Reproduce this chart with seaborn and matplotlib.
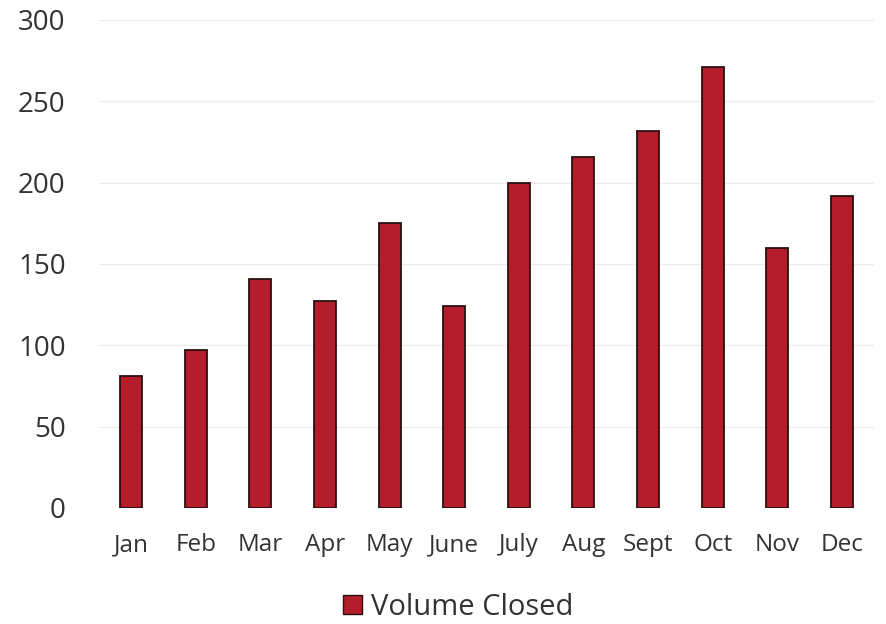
import matplotlib
matplotlib.use("Agg")
import matplotlib.pyplot as plt
import seaborn as sns
import pandas as pd
from matplotlib.patches import Patch

months = ["Jan", "Feb", "Mar", "Apr", "May", "June", "July", "Aug", "Sept", "Oct", "Nov", "Dec"]
volume_closed = [81, 97, 141, 127, 175, 124, 200, 216, 232, 271, 160, 192]
series_name = "Volume Closed"

sns.set_theme(style="white")
plt.rcParams['font.family'] = ['Open Sans', 'DejaVu Sans']

df = pd.DataFrame({"Month": months, "Value": volume_closed})

fig = plt.figure(figsize=(8.86, 6.24), dpi=100)
ax = fig.add_axes([0.1117, 0.186, 0.8748, 0.782])

bar_color = "#B31C2A"
sns.barplot(data=df, x="Month", y="Value", color=bar_color, width=0.34,
            edgecolor="#2a1010", linewidth=1.3, saturation=1, ax=ax)

ax.set_ylim(0, 300)
ax.set_yticks(range(0, 301, 50))
ax.set_xlim(-0.5, 11.5)
ax.yaxis.grid(True, color="#ececec", linewidth=0.9)
ax.set_axisbelow(True)
for s in ax.spines.values():
    s.set_visible(False)
ax.set_xlabel("")
ax.set_ylabel("")
ax.tick_params(axis="y", labelsize=20, colors="#333333", length=0, pad=24)
ax.tick_params(axis="x", labelsize=17.5, colors="#333333", length=0, pad=18)

handle = Patch(facecolor=bar_color, edgecolor="#2a1010", label=series_name)
fig.legend(handles=[handle], loc="center", bbox_to_anchor=(0.517, 0.027),
           frameon=False, fontsize=21, handlelength=0.65, handleheight=0.65,
           handletextpad=0.3, labelcolor="#333333")

fig.savefig("out.png", dpi=100, facecolor="white")
